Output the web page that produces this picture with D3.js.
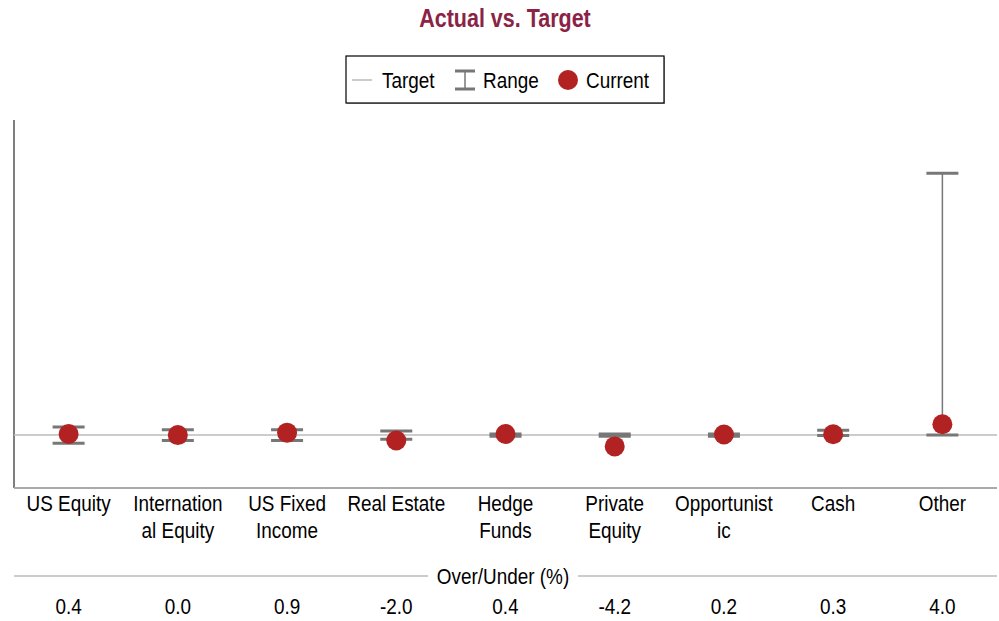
<!DOCTYPE html>
<html>
<head>
<meta charset="utf-8">
<title>Actual vs. Target</title>
<script src="https://cdn.jsdelivr.net/npm/d3@7"></script>
<style>
	body { margin: 0; background: #fff; }
	text { font-family: 'Liberation Sans Narrow', 'Arial Narrow', 'Liberation Sans', Arial, sans-serif; }
</style>
</head>
<body>
<div id="visContainer"></div>
<script>
'use strict';

// chart data
var categories = ['US Equity', 'International Equity', 'US Fixed Income', 'Real Estate', 'Hedge Funds',
	'Private Equity', 'Opportunistic', 'Cash', 'Other'];
var labelLines = [['US Equity'], ['Internation', 'al Equity'], ['US Fixed', 'Income'], ['Real Estate'],
	['Hedge', 'Funds'], ['Private', 'Equity'], ['Opportunist', 'ic'], ['Cash'], ['Other']];
var overUnder = [0.4, 0.0, 0.9, -2.0, 0.4, -4.2, 0.2, 0.3, 4.0];
var rangeLow = [-3, -2, -2, -1.5, -0.4, -0.4, -0.4, -0.2, 0];
var rangeHigh = [3, 2, 2, 1.5, 0.4, 0.4, 0.4, 1.8, 97];
var target = 0;

var svg = d3.select('#visContainer')
	.append('svg')
	.attr('width', 999)
	.attr('height', 621);

var PLOT = { left: 14, right: 997, top: 120, bottom: 488 };
var RED = '#b22222';
var GREY = '#777';
var SQUEEZE = 0.86; // no narrow font installed, so squeeze text horizontally

var xScale = d3.scaleBand()
	.domain(categories)
	.range([PLOT.left, PLOT.right]);

var yScale = d3.scaleLinear()
	.domain([-19.6, 116.7])
	.range([PLOT.bottom, PLOT.top]);

var cx = function (d) { return xScale(d) + xScale.bandwidth() / 2; };

// add a condensed text at x,y
function addText(parent, x, y, str, size, anchor) {
	return parent.append('text')
		.attr('transform', 'translate(' + x + ',' + y + ') scale(' + SQUEEZE + ',1)')
		.attr('text-anchor', anchor || 'start')
		.style('font-size', size + 'px')
		.text(str);
}

// title
addText(svg, 505, 27, 'Actual vs. Target', 25, 'middle')
	.style('font-weight', 'bold')
	.style('fill', '#8b2346');

// legend
var legend = svg.append('g').attr('transform', 'translate(346,56)');
legend.append('rect')
	.attr('x', 1).attr('y', 1)
	.attr('width', 318).attr('height', 47)
	.style('fill', '#aaa');
legend.append('rect')
	.attr('width', 318).attr('height', 47)
	.style('fill', '#fff')
	.style('stroke', '#000')
	.style('stroke-width', 1.2);
legend.append('line')
	.attr('x1', 6).attr('x2', 26).attr('y1', 24).attr('y2', 24)
	.style('stroke', '#bbb').style('stroke-width', 1.5);
addText(legend, 36, 32, 'Target', 22);
legend.append('line')
	.attr('x1', 119).attr('x2', 119).attr('y1', 15).attr('y2', 33)
	.style('stroke', GREY).style('stroke-width', 1.5);
legend.selectAll('.cap').data([15, 33]).enter().append('line')
	.attr('x1', 109).attr('x2', 129)
	.attr('y1', function (d) { return d; }).attr('y2', function (d) { return d; })
	.style('stroke', GREY).style('stroke-width', 3);
addText(legend, 137, 32, 'Range', 22);
legend.append('circle').attr('cx', 222).attr('cy', 24).attr('r', 10).style('fill', RED);
addText(legend, 240, 32, 'Current', 22);

// axes lines
svg.append('line')
	.attr('x1', PLOT.left).attr('x2', PLOT.left)
	.attr('y1', PLOT.top).attr('y2', PLOT.bottom)
	.style('stroke', '#555').style('stroke-width', 1.5);
svg.append('line')
	.attr('x1', PLOT.left).attr('x2', PLOT.right)
	.attr('y1', PLOT.bottom).attr('y2', PLOT.bottom)
	.style('stroke', '#aaa').style('stroke-width', 2);

// target line
svg.append('line')
	.attr('x1', PLOT.left).attr('x2', PLOT.right)
	.attr('y1', yScale(target)).attr('y2', yScale(target))
	.style('stroke', '#bbb').style('stroke-width', 1.5);

// range bars
var bars = svg.selectAll('.range')
	.data(categories)
	.enter().append('g')
	.attr('class', 'range');

bars.append('line')
	.attr('x1', cx).attr('x2', cx)
	.attr('y1', function (d, i) { return yScale(rangeLow[i]); })
	.attr('y2', function (d, i) { return yScale(rangeHigh[i]); })
	.style('stroke', GREY).style('stroke-width', 1.5);

[rangeLow, rangeHigh].forEach(function (arr) {
	bars.append('line')
		.attr('x1', function (d) { return cx(d) - 16; })
		.attr('x2', function (d) { return cx(d) + 16; })
		.attr('y1', function (d, i) { return yScale(arr[i]); })
		.attr('y2', function (d, i) { return yScale(arr[i]); })
		.style('stroke', GREY).style('stroke-width', 3);
});

// current dots
svg.selectAll('.dot')
	.data(categories)
	.enter().append('circle')
	.attr('class', 'dot')
	.attr('cx', cx)
	.attr('cy', function (d, i) { return yScale(overUnder[i]); })
	.attr('r', 10)
	.style('fill', RED);

// category labels, wrapped as in the picture
var labels = svg.selectAll('.cat')
	.data(categories)
	.enter().append('text')
	.attr('class', 'cat')
	.attr('text-anchor', 'middle')
	.attr('transform', function (d) { return 'translate(' + cx(d) + ',511) scale(' + SQUEEZE + ',1)'; })
	.style('font-size', '22px');
labels.selectAll('tspan')
	.data(function (d, i) { return labelLines[i]; })
	.enter().append('tspan')
	.attr('x', 0)
	.attr('dy', function (d, i) { return i === 0 ? 0 : 27; })
	.text(function (d) { return d; });

// over/under row
svg.append('line')
	.attr('x1', PLOT.left).attr('x2', 428).attr('y1', 576).attr('y2', 576)
	.style('stroke', '#999').style('stroke-width', 1.2);
svg.append('line')
	.attr('x1', 578).attr('x2', PLOT.right).attr('y1', 576).attr('y2', 576)
	.style('stroke', '#999').style('stroke-width', 1.2);
addText(svg, 503, 584, 'Over/Under (%)', 22, 'middle');

categories.forEach(function (d, i) {
	addText(svg, cx(d), 614, overUnder[i].toFixed(1), 22, 'middle');
});
</script>
</body>
</html>
